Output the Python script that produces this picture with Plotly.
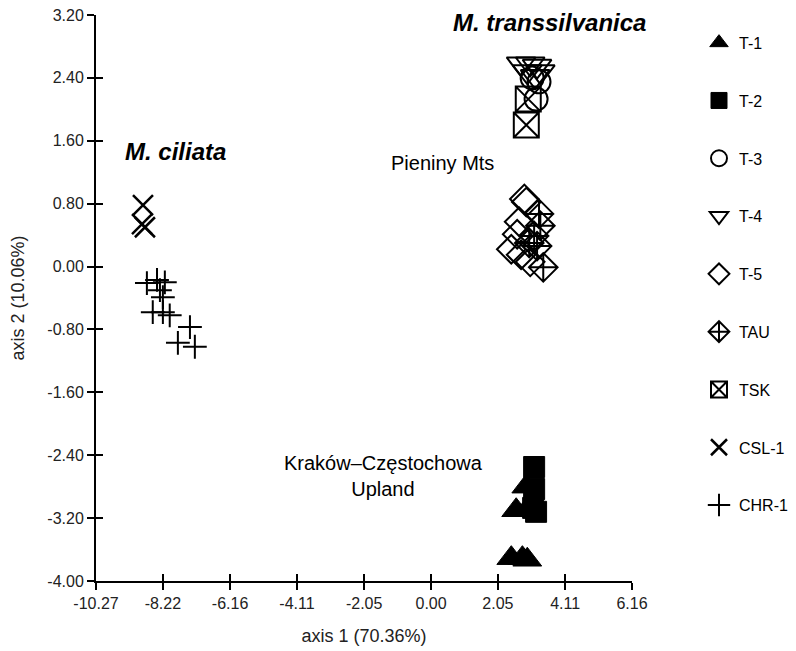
import plotly.graph_objects as go

# ---- data ----
series_names = ["T-1", "T-2", "T-3", "T-4", "T-5", "TAU", "TSK", "CSL-1", "CHR-1"]

t1_x = [2.92, 2.61, 2.98, 2.46, 2.80, 2.95]
t1_y = [-2.80, -3.10, -3.07, -3.71, -3.71, -3.73]

t2_x = [3.16, 3.16, 3.13, 3.22]
t2_y = [-2.55, -2.83, -3.07, -3.12]

t3_x = [3.10, 3.22, 3.31]
t3_y = [2.40, 2.13, 2.35]

t4_x = [2.76, 3.04, 3.25, 2.95, 3.19, 3.35]
t4_y = [2.58, 2.58, 2.55, 2.48, 2.42, 2.48]

t5_x = [2.86, 2.92, 2.64, 2.46, 2.76, 3.04, 2.70]
t5_y = [0.86, 0.82, 0.41, 0.22, 0.15, 0.06, 0.57]

tau_x = [3.31, 3.16, 3.01, 3.25, 3.44, 3.35]
tau_y = [0.67, 0.39, 0.30, 0.26, -0.01, 0.52]

tsk_x = [2.98, 2.92]
tsk_y = [2.13, 1.80]

csl_x = [-8.83, -8.86, -8.77]
csl_y = [0.78, 0.54, 0.50]

chr_x = [-8.71, -8.40, -8.16, -8.31, -8.22, -8.53, -8.22, -8.01, -7.39, -7.76, -7.24]
chr_y = [-0.21, -0.17, -0.20, -0.30, -0.39, -0.58, -0.58, -0.62, -0.77, -0.97, -1.02]

x_ticks = [-10.27, -8.22, -6.16, -4.11, -2.05, 0.00, 2.05, 4.11, 6.16]
y_ticks = [3.20, 2.40, 1.60, 0.80, 0.00, -0.80, -1.60, -2.40, -3.20, -4.00]

labels_text = ["<b><i>M. ciliata</i></b>", "<b><i>M. transsilvanica</i></b>",
               "Pieniny Mts", "Kraków–Częstochowa<br>Upland"]
labels_x = [-7.82, 3.62, 0.35, -1.47]
labels_y = [1.46, 3.11, 1.32, -2.66]
labels_size = [24, 24, 20, 20]

# ---- styles ----
styles = {
    "T-1": dict(symbol="triangle-up", size=25, color="black", line=dict(color="black", width=1)),
    "T-2": dict(symbol="square", size=21, color="black", line=dict(color="black", width=1)),
    "T-3": dict(symbol="circle-open", size=23, color="black", line=dict(color="black", width=2)),
    "T-4": dict(symbol="triangle-down-open", size=25, color="black", line=dict(color="black", width=2)),
    "T-5": dict(symbol="diamond-open", size=22, color="black", line=dict(color="black", width=2)),
    "TAU": dict(symbol="diamond-cross-open", size=22, color="black", line=dict(color="black", width=2)),
    "TSK": dict(symbol="square-x-open", size=25, color="black", line=dict(color="black", width=2)),
    "CSL-1": dict(symbol="x-thin-open", size=20, color="black", line=dict(color="black", width=2.5)),
    "CHR-1": dict(symbol="cross-thin-open", size=17, color="black", line=dict(color="black", width=2)),
}

data = {
    "T-1": (t1_x, t1_y), "T-2": (t2_x, t2_y), "T-3": (t3_x, t3_y),
    "T-4": (t4_x, t4_y), "T-5": (t5_x, t5_y), "TAU": (tau_x, tau_y),
    "TSK": (tsk_x, tsk_y), "CSL-1": (csl_x, csl_y), "CHR-1": (chr_x, chr_y),
}

fig = go.Figure()
for name in series_names:
    xs, ys = data[name]
    fig.add_trace(go.Scatter(x=xs, y=ys, mode="markers", name=name,
                             legendgroup=name, marker=styles[name]))

# invisible trace to carry the inner-tick axes
fig.add_trace(go.Scatter(x=[x_ticks[0]], y=[y_ticks[0]], xaxis="x2", yaxis="y2",
                         mode="markers", marker=dict(opacity=0), showlegend=False,
                         hoverinfo="skip"))

font_family = "Liberation Sans, Arial, sans-serif"
tick_font = dict(family=font_family, size=16, color="#222222")
title_font = dict(family=font_family, size=18, color="#222222")

# the page body adds an 8px offset, so the figure is 8px smaller than the window
fig.update_layout(
    width=788, height=643,
    margin=dict(l=88, r=164, t=7, b=70, autoexpand=False),
    paper_bgcolor="white", plot_bgcolor="white",
    font=dict(family=font_family, color="black"),
    xaxis=dict(range=[x_ticks[0], x_ticks[-1]], tickvals=x_ticks,
               ticktext=[f"{v:.2f}" for v in x_ticks],
               ticks="outside", ticklen=7, tickwidth=2, tickcolor="black",
               showline=True, linecolor="black", linewidth=2,
               showgrid=False, zeroline=False, tickfont=tick_font,
               ticklabeloverflow="allow",
               title=dict(text="axis 1 (70.36%)", font=title_font, standoff=18)),
    yaxis=dict(range=[y_ticks[-1], y_ticks[0]], tickvals=y_ticks,
               ticktext=[f"{v:.2f}" for v in y_ticks],
               ticks="outside", ticklen=7, tickwidth=2, tickcolor="black",
               showline=True, linecolor="black", linewidth=2,
               showgrid=False, zeroline=False, tickfont=tick_font,
               ticklabeloverflow="allow",
               title=dict(text="axis 2 (10.06%)", font=title_font, standoff=22)),
    xaxis2=dict(overlaying="x", anchor="y", side="bottom", range=[x_ticks[0], x_ticks[-1]],
                tickvals=x_ticks, ticks="inside", ticklen=7, tickwidth=2, tickcolor="black",
                showticklabels=False, showline=False, showgrid=False, zeroline=False),
    yaxis2=dict(overlaying="y", anchor="x", side="left", range=[y_ticks[-1], y_ticks[0]],
                tickvals=y_ticks, ticks="inside", ticklen=7, tickwidth=2, tickcolor="black",
                showticklabels=False, showline=False, showgrid=False, zeroline=False),
    legend=dict(x=1.125, y=0.981, xanchor="left", yanchor="top",
                font=dict(family=font_family, size=16, color="black"),
                tracegroupgap=34, bgcolor="rgba(0,0,0,0)"),
    showlegend=True,
)

for t, x, y, s in zip(labels_text, labels_x, labels_y, labels_size):
    fig.add_annotation(x=x, y=y, xref="x", yref="y", text=t, showarrow=False,
                       font=dict(family=font_family, size=s, color="black"),
                       align="center")

fig.write_html("out.html")
